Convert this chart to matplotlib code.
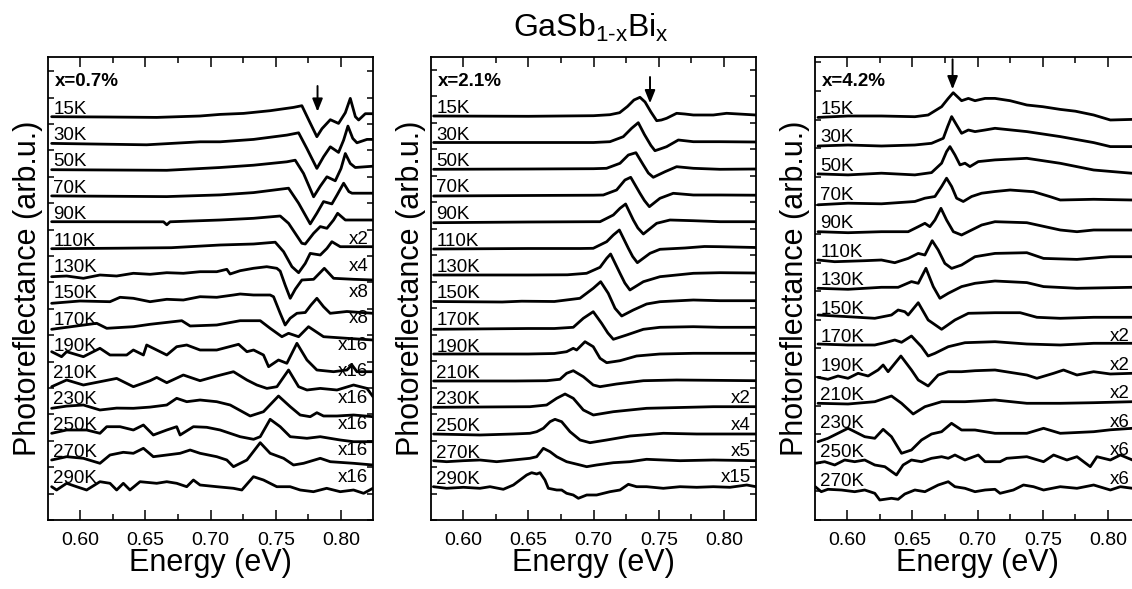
import matplotlib
matplotlib.use('Agg')
import numpy as np
import matplotlib.pyplot as plt
from matplotlib.ticker import MultipleLocator, FormatStrFormatter
from matplotlib.transforms import blended_transform_factory

plt.rcParams['font.family'] = ['Liberation Sans', 'DejaVu Sans']
plt.rcParams['mathtext.fontset'] = 'custom'
plt.rcParams['mathtext.rm'] = 'Liberation Sans'
plt.rcParams['mathtext.it'] = 'Liberation Sans'
plt.rcParams['mathtext.bf'] = 'Liberation Sans:bold'

# ---------------- data: panel 1 (x = 0.7 %) ----------------
temps1 = ['15K', '30K', '50K', '70K', '90K', '110K', '130K', '150K', '170K', '190K', '210K', '230K', '250K', '270K', '290K']
mult1 = ['', '', '', '', '', 'x2', 'x4', 'x8', 'x8', 'x16', 'x16', 'x16', 'x16', 'x16', 'x16']

e1_15 = [0.5783, 0.6200, 0.6588, 0.6920, 0.7074, 0.7253, 0.7457, 0.7636, 0.7700, 0.7759, 0.7815, 0.7854, 0.7918, 0.7981, 0.8033, 0.8071, 0.8110, 0.8135, 0.8186, 0.8245]
s1_15 = [0.0, -0.3, -0.7, 0.7, 2.3, 3.3, 6.0, 9.3, 11.0, -5.0, -20.0, -12.0, -3.0, -6.7, 4.0, 18.3, 0.0, -3.3, 3.0, 3.0]
e1_30 = [0.5783, 0.6511, 0.6920, 0.7074, 0.7330, 0.7585, 0.7675, 0.7738, 0.7815, 0.7866, 0.7918, 0.7981, 0.8020, 0.8053, 0.8090, 0.8122, 0.8199, 0.8245]
s1_30 = [-0.3, -1.7, 1.3, 1.3, 3.7, 8.0, 10.3, -5.3, -25.3, -13.7, -3.7, -9.3, 3.0, 17.0, 4.7, 0.3, 3.7, 3.7]
e1_50 = [0.5783, 0.6665, 0.7074, 0.7330, 0.7585, 0.7649, 0.7713, 0.7790, 0.7841, 0.7892, 0.7956, 0.8000, 0.8033, 0.8071, 0.8109, 0.8245]
s1_50 = [-0.2, -0.8, 2.0, 4.3, 7.7, 9.3, -4.0, -27.3, -16.7, -7.3, -11.3, 1.0, 16.0, 6.0, 2.0, 3.3]
e1_70 = [0.5783, 0.6665, 0.7074, 0.7330, 0.7598, 0.7675, 0.7764, 0.7815, 0.7866, 0.7930, 0.7970, 0.8020, 0.8060, 0.8084, 0.8245]
s1_70 = [0.0, -0.7, 1.0, 3.3, 7.7, -7.3, -28.0, -17.3, -5.7, -8.0, 1.0, 12.7, 4.3, 2.7, 2.7]
e1_90 = [0.5783, 0.6640, 0.6665, 0.6690, 0.7074, 0.7330, 0.7534, 0.7598, 0.7700, 0.7726, 0.7790, 0.7841, 0.7892, 0.7943, 0.7974, 0.8033, 0.8245]
s1_90 = [0.6, 0.5, -2.5, 0.5, 2.3, 4.0, 6.3, -1.0, -21.0, -21.7, -11.0, -4.3, -6.0, 2.3, 9.0, 2.3, 2.3]
e1_110 = [0.5783, 0.6300, 0.6700, 0.7074, 0.7330, 0.7496, 0.7560, 0.7624, 0.7675, 0.7726, 0.7764, 0.7841, 0.7892, 0.7930, 0.7994, 0.8245]
s1_110 = [0.0, 0.5, 1.0, 3.7, 4.7, 6.5, -3.0, -18.0, -24.0, -14.7, -4.7, -6.3, 0.3, 7.0, 2.0, 2.0]
e1_130 = [0.5783, 0.5898, 0.6026, 0.6153, 0.6281, 0.6409, 0.6537, 0.6665, 0.6792, 0.6920, 0.7048, 0.7125, 0.7150, 0.7227, 0.7329, 0.7431, 0.7508, 0.7534, 0.7572, 0.7611, 0.7650, 0.7700, 0.7790, 0.7872, 0.7943, 0.8096, 0.8245]
s1_130 = [-1.6, -0.9, -3.2, 0.1, -0.9, 1.8, 0.8, 2.4, 1.8, 3.4, 3.4, 5.8, 1.1, 4.4, 6.8, 8.4, 6.8, 4.0, -10.0, -23.2, -14.0, -4.9, -4.2, 6.8, -3.2, -4.2, -4.9]
e1_150 = [0.5783, 0.6000, 0.6230, 0.6307, 0.6409, 0.6537, 0.6665, 0.6792, 0.6920, 0.7048, 0.7176, 0.7227, 0.7329, 0.7457, 0.7483, 0.7534, 0.7572, 0.7610, 0.7662, 0.7726, 0.7770, 0.7815, 0.7866, 0.7917, 0.8045, 0.8245]
s1_150 = [-1.8, 0.5, -0.2, 4.2, 3.2, -0.2, 2.2, 1.5, 4.8, 4.2, 6.5, 7.5, 6.5, 6.5, 4.8, -11.8, -23.5, -16.8, -11.8, -11.0, -3.5, 3.2, -5.2, -11.8, -10.0, -11.8]
e1_170 = [0.5783, 0.6128, 0.6205, 0.6409, 0.6537, 0.6780, 0.6844, 0.7048, 0.7227, 0.7381, 0.7457, 0.7547, 0.7598, 0.7675, 0.7751, 0.7866, 0.8045, 0.8245]
s1_170 = [-1.4, 4.6, -0.4, 1.2, 3.6, 7.2, 1.9, 2.9, 7.2, 7.2, -0.4, -8.8, -5.4, -8.8, 1.2, -8.8, -10.4, -12.1]
e1_190 = [0.5783, 0.5859, 0.5898, 0.6026, 0.6153, 0.6230, 0.6358, 0.6409, 0.6486, 0.6511, 0.6588, 0.6665, 0.6741, 0.6818, 0.6920, 0.7048, 0.7215, 0.7279, 0.7330, 0.7406, 0.7445, 0.7521, 0.7585, 0.7662, 0.7739, 0.7815, 0.7943, 0.8045, 0.8084, 0.8122, 0.8245]
s1_190 = [2.6, -2.4, 2.6, -2.4, 6.0, -0.7, -0.7, 4.3, -0.7, 9.3, 4.3, -0.7, 7.6, 9.3, 4.3, 4.3, 10.0, 2.6, 4.3, -0.7, -12.4, -5.7, -9.0, 11.0, -5.7, -15.7, -17.4, -15.7, -10.7, -17.4, -17.4]
e1_210 = [0.5783, 0.5898, 0.6026, 0.6281, 0.6409, 0.6537, 0.6588, 0.6665, 0.6792, 0.6920, 0.7048, 0.7176, 0.7279, 0.7355, 0.7432, 0.7509, 0.7598, 0.7675, 0.7739, 0.7841, 0.7969, 0.8096, 0.8199, 0.8245]
s1_210 = [-6.0, 0.7, -4.3, 2.3, -6.0, 0.0, 3.3, -2.0, 5.7, 0.0, 4.7, 9.0, 0.7, -4.3, -7.7, -6.0, 10.7, -6.0, -9.3, -7.7, -9.3, -4.3, -7.7, -16.0]
e1_230 = [0.5783, 0.5898, 0.6026, 0.6153, 0.6281, 0.6409, 0.6537, 0.6665, 0.6741, 0.6818, 0.6920, 0.7048, 0.7151, 0.7304, 0.7406, 0.7521, 0.7611, 0.7687, 0.7764, 0.7815, 0.7866, 0.7969, 0.8096, 0.8245]
s1_230 = [-1.2, 1.0, 2.1, -2.9, -1.0, -1.2, 0.0, 2.1, 8.8, 5.4, 7.1, 5.4, 2.1, -8.9, -4.6, 11.1, 0.4, -7.9, -9.6, -5.6, -8.9, -8.9, -7.9, -9.6]
e1_250 = [0.5783, 0.5898, 0.6051, 0.6153, 0.6205, 0.6307, 0.6409, 0.6486, 0.6562, 0.6665, 0.6741, 0.6767, 0.6869, 0.6971, 0.7074, 0.7227, 0.7330, 0.7381, 0.7457, 0.7534, 0.7611, 0.7739, 0.7841, 0.7994, 0.8096, 0.8245]
s1_250 = [0.2, 3.5, 3.5, 0.2, 6.8, 6.8, 3.5, 8.5, -1.5, 3.5, 6.8, -1.5, 6.8, 6.2, 3.5, -3.2, -5.8, -3.2, 14.2, 6.8, -3.2, -4.8, -3.2, -6.5, -8.2, -8.2]
e1_270 = [0.5783, 0.5898, 0.6026, 0.6153, 0.6230, 0.6332, 0.6409, 0.6486, 0.6562, 0.6665, 0.6767, 0.6844, 0.6920, 0.7048, 0.7125, 0.7176, 0.7279, 0.7381, 0.7457, 0.7560, 0.7636, 0.7713, 0.7841, 0.7918, 0.8096, 0.8245]
s1_270 = [-0.1, 3.2, 1.6, -3.4, 4.9, 7.6, 6.6, 11.6, 3.2, 4.9, 6.6, 9.9, 6.6, 3.2, -0.1, -6.8, -0.1, 17.2, 6.6, 1.6, -5.1, -3.4, 1.6, -1.8, -3.4, -5.1]
e1_290 = [0.5783, 0.5821, 0.5898, 0.5974, 0.6051, 0.6153, 0.6230, 0.6281, 0.6332, 0.6383, 0.6460, 0.6588, 0.6665, 0.6741, 0.6818, 0.6869, 0.6920, 0.7048, 0.7176, 0.7240, 0.7329, 0.7406, 0.7508, 0.7610, 0.7687, 0.7789, 0.7890, 0.7994, 0.8096, 0.8173, 0.8244]
s1_290 = [-0.4, -3.7, 3.0, -0.4, -3.7, 4.6, 3.0, -3.7, 3.0, -3.7, 4.6, 3.0, 4.6, 3.0, -0.4, 6.3, 1.3, -0.4, -2.0, -3.7, 9.6, 6.3, -0.4, -0.4, -3.7, -5.4, -2.0, -5.4, -3.7, -7.0, -2.0]

# ---------------- data: panel 2 (x = 2.1 %) ----------------
temps2 = ['15K', '30K', '50K', '70K', '90K', '110K', '130K', '150K', '170K', '190K', '210K', '230K', '250K', '270K', '290K']
mult2 = ['', '', '', '', '', '', '', '', '', '', '', 'x2', 'x4', 'x5', 'x15']

e2_15 = [0.5775, 0.6500, 0.7000, 0.7126, 0.7200, 0.7260, 0.7310, 0.7356, 0.7395, 0.7440, 0.7484, 0.7520, 0.7560, 0.7637, 0.7700, 0.7765, 0.7918, 0.8020, 0.8245]
s2_15 = [0.0, -0.3, 0.3, 1.3, 3.3, 9.5, 16.0, 18.7, 14.0, 4.0, -4.7, -4.0, -2.3, 2.7, 2.0, 1.0, 1.0, 2.7, 1.0]
e2_30 = [0.5775, 0.6500, 0.7000, 0.7126, 0.7228, 0.7292, 0.7343, 0.7390, 0.7440, 0.7471, 0.7510, 0.7560, 0.7650, 0.7765, 0.7969, 0.8245]
s2_30 = [0.0, 0.0, 0.0, 0.8, 5.8, 14.2, 19.8, 8.0, -3.0, -8.2, -6.5, -4.2, 2.5, 0.8, 0.8, 0.5]
e2_50 = [0.5775, 0.6500, 0.7000, 0.7100, 0.7203, 0.7267, 0.7325, 0.7382, 0.7420, 0.7458, 0.7548, 0.7637, 0.7765, 0.7969, 0.8245]
s2_50 = [-0.3, 0.0, 0.3, 0.7, 5.7, 14.0, 16.3, 4.0, -4.0, -8.3, -2.7, 2.3, 0.7, -0.3, 0.0]
e2_70 = [0.5775, 0.6500, 0.7000, 0.7075, 0.7177, 0.7241, 0.7285, 0.7356, 0.7390, 0.7428, 0.7509, 0.7611, 0.7765, 0.7969, 0.8245]
s2_70 = [-0.5, 0.0, 0.3, 0.5, 5.5, 15.5, 18.2, 2.2, -5.0, -11.2, -2.8, 2.2, 0.5, 0.5, 0.3]
e2_90 = [0.5775, 0.6500, 0.7000, 0.7050, 0.7152, 0.7203, 0.7246, 0.7305, 0.7340, 0.7382, 0.7484, 0.7586, 0.7765, 0.7969, 0.8245]
s2_90 = [-0.7, 0.0, 0.3, 0.3, 7.0, 13.7, 18.0, 2.0, -6.0, -12.0, -1.3, 2.0, 1.3, 0.3, 0.3]
e2_110 = [0.5775, 0.6500, 0.6900, 0.6998, 0.7101, 0.7152, 0.7198, 0.7267, 0.7300, 0.7336, 0.7433, 0.7509, 0.7700, 0.7850, 0.7969, 0.8245]
s2_110 = [-0.5, 0.0, 0.0, 0.2, 6.8, 13.5, 18.5, 0.2, -8.0, -14.2, -4.8, -0.8, 0.5, 2.0, 1.8, 1.0]
e2_130 = [0.5775, 0.6500, 0.6800, 0.6947, 0.7050, 0.7101, 0.7131, 0.7203, 0.7240, 0.7279, 0.7382, 0.7509, 0.7765, 0.7969, 0.8245]
s2_130 = [0.0, 0.0, 0.2, 1.7, 7.7, 16.7, 21.0, 1.7, -8.0, -15.0, -6.7, -1.7, 1.7, 2.3, 2.0]
e2_150 = [0.5775, 0.6300, 0.6450, 0.6700, 0.6896, 0.6998, 0.7055, 0.7113, 0.7165, 0.7216, 0.7305, 0.7407, 0.7509, 0.7765, 0.7969, 0.8245]
s2_150 = [0.0, -0.5, 0.3, 0.0, 3.2, 13.2, 19.8, 8.2, -6.8, -14.5, -8.5, -2.5, -0.2, 1.5, 0.8, 0.8]
e2_170 = [0.5775, 0.6500, 0.6700, 0.6845, 0.6922, 0.6998, 0.7062, 0.7110, 0.7152, 0.7254, 0.7382, 0.7509, 0.7765, 0.7969, 0.8245]
s2_170 = [-1.3, -0.5, -0.5, 0.7, 9.7, 16.3, 4.7, -5.0, -11.3, -7.0, -1.3, 0.7, 1.3, 0.7, 0.7]
e2_190 = [0.5775, 0.6500, 0.6700, 0.6794, 0.6845, 0.6871, 0.6935, 0.6998, 0.7050, 0.7101, 0.7203, 0.7330, 0.7509, 0.7765, 0.8245]
s2_190 = [0.5, 0.5, 1.0, 2.8, 6.2, 4.5, 12.8, 7.8, -3.8, -8.2, -6.2, -1.5, 0.5, 1.2, 1.2]
e2_210 = [0.5775, 0.6400, 0.6641, 0.6743, 0.6794, 0.6845, 0.6922, 0.6998, 0.7050, 0.7177, 0.7382, 0.7637, 0.8245]
s2_210 = [0.0, 0.0, 0.3, 1.7, 7.7, 10.3, 4.3, -4.0, -5.7, -3.0, 0.3, 1.0, 0.3]
e2_230 = [0.5775, 0.6513, 0.6641, 0.6718, 0.6782, 0.6845, 0.6922, 0.6999, 0.7152, 0.7407, 0.7918, 0.8245]
s2_230 = [0.2, 0.8, 2.5, 9.2, 13.5, 9.2, -2.5, -7.5, -4.2, -0.8, 0.8, 0.8]
e2_250 = [0.5775, 0.6130, 0.6386, 0.6513, 0.6565, 0.6616, 0.6667, 0.6705, 0.6756, 0.6820, 0.6897, 0.6973, 0.7101, 0.7280, 0.7535, 0.7791, 0.8245]
s2_250 = [0.0, -1.0, 0.0, 0.7, 2.3, 5.7, 12.3, 14.7, 12.3, 2.3, -6.0, -8.7, -6.0, -2.0, 0.7, 0.0, 0.0]
e2_270 = [0.5775, 0.5875, 0.6003, 0.6130, 0.6258, 0.6386, 0.6513, 0.6565, 0.6616, 0.6667, 0.6718, 0.6794, 0.6897, 0.6948, 0.7024, 0.7152, 0.7280, 0.7407, 0.7535, 0.7663, 0.7918, 0.8245]
s2_270 = [-0.2, -1.2, -0.2, 0.5, -1.2, 0.5, 2.2, 3.8, 12.2, 8.8, 3.8, -1.2, -4.5, -6.2, -4.5, -2.2, -1.2, 1.2, 0.5, -0.2, 0.5, -0.2]
e2_290 = [0.5773, 0.5875, 0.6003, 0.6130, 0.6207, 0.6309, 0.6386, 0.6437, 0.6488, 0.6526, 0.6565, 0.6590, 0.6628, 0.6654, 0.6718, 0.6756, 0.6794, 0.6845, 0.6884, 0.6948, 0.7024, 0.7126, 0.7203, 0.7267, 0.7330, 0.7407, 0.7535, 0.7663, 0.7791, 0.7918, 0.8046, 0.8174, 0.8245]
s2_290 = [0.3, -1.3, -0.3, -1.3, 0.3, -2.3, 2.0, 7.0, 12.0, 14.3, 13.0, 14.3, 7.0, -1.3, -3.0, -3.0, -6.3, -8.0, -11.3, -8.0, -8.0, -4.7, -3.0, 2.7, 0.3, 0.3, -1.3, 0.3, -0.3, 0.3, -0.3, 2.0, 0.3]

# ---------------- data: panel 3 (x = 4.2 %) ----------------
temps3 = ['15K', '30K', '50K', '70K', '90K', '110K', '130K', '150K', '170K', '190K', '210K', '230K', '250K', '270K']
mult3 = ['', '', '', '', '', '', '', '', 'x2', 'x2', 'x2', 'x6', 'x6', 'x6']

e3_15 = [0.5778, 0.6008, 0.6264, 0.6520, 0.6622, 0.6725, 0.6776, 0.6814, 0.6878, 0.6930, 0.6981, 0.7058, 0.7134, 0.7250, 0.7378, 0.7500, 0.7634, 0.7750, 0.7890, 0.8018, 0.8187]
s3_15 = [-0.7, 0.7, 0.7, 0.0, 1.7, 10.0, 18.3, 24.0, 16.0, 18.3, 16.0, 18.3, 18.3, 16.0, 11.7, 10.0, 7.3, 5.5, 1.7, -3.3, -2.7]
e3_30 = [0.5778, 0.6008, 0.6264, 0.6520, 0.6648, 0.6738, 0.6771, 0.6802, 0.6840, 0.6878, 0.6930, 0.6981, 0.7058, 0.7134, 0.7378, 0.7634, 0.7890, 0.8018, 0.8187]
s3_30 = [-0.7, 0.3, -0.7, 0.3, 2.0, 7.0, 18.7, 28.7, 20.3, 12.0, 15.3, 13.7, 15.3, 17.0, 13.7, 8.7, 2.7, -1.3, -1.3]
e3_50 = [0.5778, 0.6008, 0.6264, 0.6520, 0.6648, 0.6725, 0.6763, 0.6789, 0.6827, 0.6866, 0.6904, 0.6942, 0.7006, 0.7134, 0.7378, 0.7634, 0.7890, 0.8187]
s3_50 = [0.0, -1.0, 0.7, -1.0, 1.3, 10.7, 22.3, 27.3, 19.0, 9.0, 10.7, 7.3, 12.3, 14.0, 15.6, 10.6, 3.9, 0.6]
e3_70 = [0.5778, 0.6008, 0.6264, 0.6520, 0.6597, 0.6674, 0.6725, 0.6763, 0.6802, 0.6840, 0.6891, 0.6955, 0.7032, 0.7134, 0.7250, 0.7429, 0.7557, 0.7634, 0.7890, 0.8187]
s3_70 = [-2.3, -0.7, -1.3, 1.0, 4.3, 6.0, 16.0, 24.3, 16.0, 4.3, 1.0, 6.0, 9.3, 11.0, 12.5, 10.8, 5.8, 2.5, 3.2, 2.5]
e3_90 = [0.5778, 0.6008, 0.6264, 0.6469, 0.6546, 0.6597, 0.6635, 0.6674, 0.6720, 0.6763, 0.6815, 0.6878, 0.6955, 0.7032, 0.7134, 0.7378, 0.7634, 0.7762, 0.7890, 0.8187]
s3_90 = [-0.6, -1.6, -0.6, -0.6, 4.4, 7.8, 4.4, 11.1, 22.8, 11.1, -0.6, -3.9, 1.1, 6.1, 9.4, 8.4, 1.1, -0.6, 1.1, 1.1]
e3_110 = [0.5778, 0.5906, 0.6136, 0.6264, 0.6366, 0.6469, 0.6546, 0.6597, 0.6653, 0.6699, 0.6750, 0.6802, 0.6878, 0.6981, 0.7134, 0.7378, 0.7506, 0.7762, 0.8018, 0.8187]
s3_110 = [-0.3, -2.0, -1.0, -0.3, -3.0, 1.3, 6.3, 4.7, 19.0, 9.7, -3.7, -8.7, -5.3, 3.0, 6.3, 7.0, 1.3, 0.3, 3.0, 3.0]
e3_130 = [0.5778, 0.6008, 0.6264, 0.6392, 0.6494, 0.6546, 0.6605, 0.6661, 0.6712, 0.6776, 0.6878, 0.6981, 0.7134, 0.7378, 0.7506, 0.7762, 0.8187]
s3_130 = [0.0, -1.0, 1.0, 1.0, 6.7, 5.0, 20.0, 1.7, -10.0, -5.0, 1.7, 5.0, 7.3, 5.7, 1.7, 0.0, 1.0]
e3_150 = [0.5778, 0.6008, 0.6213, 0.6341, 0.6392, 0.6443, 0.6469, 0.6546, 0.6622, 0.6725, 0.6827, 0.6930, 0.7134, 0.7327, 0.7455, 0.7634, 0.7890, 0.8187]
s3_150 = [1.9, 0.2, -1.4, 1.9, 6.9, 5.2, 1.9, 14.2, -3.1, -12.4, -3.1, 3.6, 4.2, 4.2, -0.4, -1.4, -0.4, -0.4]
e3_170 = [0.5778, 0.6008, 0.6213, 0.6290, 0.6366, 0.6418, 0.6494, 0.6571, 0.6622, 0.6674, 0.6776, 0.6904, 0.7134, 0.7378, 0.7634, 0.7890, 0.8187]
s3_170 = [1.5, 0.5, 0.5, 2.8, 5.5, 3.2, 9.5, -1.2, -10.5, -7.8, -1.2, 2.8, 3.8, 1.5, 0.5, 2.2, 2.2]
e3_190 = [0.5778, 0.5854, 0.5931, 0.6008, 0.6085, 0.6162, 0.6238, 0.6277, 0.6315, 0.6413, 0.6494, 0.6546, 0.6622, 0.6699, 0.6776, 0.6878, 0.6981, 0.7134, 0.7378, 0.7455, 0.7583, 0.7659, 0.7762, 0.7890, 0.8018, 0.8187]
s3_190 = [-3.2, -5.2, -1.9, -4.2, 0.8, -1.9, 4.1, 9.1, 2.4, 18.1, 4.1, -5.9, -11.9, -0.9, 2.4, 2.4, 3.4, 4.1, -0.9, -4.2, 0.8, 4.1, -0.9, 2.4, 0.1, 0.8]
e3_210 = [0.5778, 0.6008, 0.6213, 0.6341, 0.6418, 0.6507, 0.6597, 0.6725, 0.6904, 0.7134, 0.7378, 0.7634, 0.7890, 0.8187]
s3_210 = [-0.6, -1.3, 1.0, 6.7, -0.6, -11.3, -4.0, 1.0, 1.0, 2.7, -0.6, -0.6, 0.0, 1.0]
e3_230 = [0.5778, 0.5854, 0.5931, 0.6008, 0.6136, 0.6213, 0.6277, 0.6341, 0.6418, 0.6494, 0.6571, 0.6648, 0.6725, 0.6801, 0.6878, 0.6981, 0.7058, 0.7134, 0.7378, 0.7506, 0.7634, 0.7890, 0.8018, 0.8187]
s3_230 = [-10.4, -7.0, -2.0, 3.0, -5.4, -7.0, 2.0, -5.4, -22.0, -18.7, -8.7, -2.7, -0.4, 8.0, 1.3, 1.3, -0.4, -2.0, -2.0, 3.0, -2.0, -0.4, 1.5, 3.0]
e3_250 = [0.5757, 0.5829, 0.5906, 0.5982, 0.6059, 0.6136, 0.6213, 0.6290, 0.6379, 0.6430, 0.6494, 0.6571, 0.6648, 0.6725, 0.6776, 0.6827, 0.6904, 0.7006, 0.7058, 0.7134, 0.7173, 0.7224, 0.7378, 0.7506, 0.7583, 0.7685, 0.7762, 0.7864, 0.7915, 0.8018, 0.8095, 0.8187]
s3_250 = [-3.4, -1.8, -5.1, -0.1, -1.8, -0.1, -5.1, -6.8, -15.1, -5.1, -0.1, -1.8, 1.6, 3.2, 1.6, 4.9, -0.1, 4.9, -1.8, -1.8, -1.8, 1.6, 3.2, -1.8, 4.9, -0.1, 3.2, -6.8, 3.2, -0.1, 4.9, -0.1]
e3_270 = [0.5757, 0.5803, 0.5854, 0.5957, 0.6059, 0.6136, 0.6213, 0.6251, 0.6341, 0.6392, 0.6443, 0.6520, 0.6597, 0.6699, 0.6776, 0.6827, 0.6904, 0.6981, 0.7058, 0.7134, 0.7173, 0.7275, 0.7352, 0.7429, 0.7506, 0.7634, 0.7762, 0.7890, 0.8018, 0.8095, 0.8187]
s3_270 = [1.8, -3.2, -0.8, -1.5, -3.2, -1.5, -4.8, -11.5, -9.8, -10.8, -5.5, -1.5, -3.2, 3.5, 6.8, 1.8, 0.2, -3.2, -1.5, -0.8, -4.8, -1.5, 3.5, 1.8, -1.5, 1.8, 0.2, 3.5, -1.5, 1.8, 0.2]

compositions = ['x=0.7%', 'x=2.1%', 'x=4.2%']
arrow_energy = [0.782, 0.7433, 0.6809]

# ---------------- assemble ----------------
E1 = [e1_15, e1_30, e1_50, e1_70, e1_90, e1_110, e1_130, e1_150, e1_170, e1_190, e1_210, e1_230, e1_250, e1_270, e1_290]
S1 = [s1_15, s1_30, s1_50, s1_70, s1_90, s1_110, s1_130, s1_150, s1_170, s1_190, s1_210, s1_230, s1_250, s1_270, s1_290]
E2 = [e2_15, e2_30, e2_50, e2_70, e2_90, e2_110, e2_130, e2_150, e2_170, e2_190, e2_210, e2_230, e2_250, e2_270, e2_290]
S2 = [s2_15, s2_30, s2_50, s2_70, s2_90, s2_110, s2_130, s2_150, s2_170, s2_190, s2_210, s2_230, s2_250, s2_270, s2_290]
E3 = [e3_15, e3_30, e3_50, e3_70, e3_90, e3_110, e3_130, e3_150, e3_170, e3_190, e3_210, e3_230, e3_250, e3_270]
S3 = [s3_15, s3_30, s3_50, s3_70, s3_90, s3_110, s3_130, s3_150, s3_170, s3_190, s3_210, s3_230, s3_250, s3_270]

panels = [
    dict(E=E1, S=S1, temps=temps1, mult=mult1, left=48, base=403.3, step=26.4, arrow=(30.7, 5.0), mx=0.986),
    dict(E=E2, S=S2, temps=temps2, mult=mult2, left=431, base=404.0, step=26.5, arrow=(39.0, 12.7), mx=0.984),
    dict(E=E3, S=S3, temps=temps3, mult=mult3, left=815, base=403.3, step=28.6, arrow=(57.4, 27.4), mx=0.968),
]

W, H = 1132, 589
fig = plt.figure(figsize=(W / 100, H / 100), dpi=100)

ax_w, ax_h = 325, 463
ax_bottom_px = 69

for k, p in enumerate(panels):
    ax = fig.add_axes([p['left'] / W, ax_bottom_px / H, ax_w / W, ax_h / H])
    ax.set_xlim(0.5755, 0.8245)
    ax.set_ylim(0, 463)
    tr = blended_transform_factory(ax.transAxes, ax.transData)
    for i, (e, s) in enumerate(zip(p['E'], p['S'])):
        off = p['base'] - i * p['step']
        ax.plot(e, off + np.asarray(s), color='black', lw=2.0,
                solid_joinstyle='round', solid_capstyle='round')
        ax.text(0.016, off + 3.0, p['temps'][i], transform=tr, fontsize=13.5,
                ha='left', va='baseline')
        if p['mult'][i]:
            ax.text(p['mx'], off + 4.5, p['mult'][i], transform=tr, fontsize=13.5,
                    ha='right', va='baseline')
    ax.text(0.022, 0.938, compositions[k], transform=ax.transAxes, fontsize=13.5,
            fontweight='bold', ha='left', va='baseline')
    ea = arrow_energy[k]
    ax.annotate('', xy=(ea, p['base'] + p['arrow'][1]), xytext=(ea, p['base'] + p['arrow'][0]),
                arrowprops=dict(arrowstyle='-|>,head_length=0.55,head_width=0.22',
                                color='black', lw=1.4, mutation_scale=14,
                                shrinkA=0, shrinkB=0))
    ax.xaxis.set_major_locator(MultipleLocator(0.05))
    ax.xaxis.set_minor_locator(MultipleLocator(0.025))
    ax.yaxis.set_major_locator(MultipleLocator(p['step']))
    ax.tick_params(axis='x', which='major', direction='in', top=True, bottom=True,
                   length=7, width=1.1, labelsize=14, pad=8.5)
    ax.tick_params(axis='x', which='minor', direction='in', top=True, bottom=True,
                   length=4, width=1.1)
    ax.tick_params(axis='y', which='major', direction='in', left=True, right=True,
                   length=4, width=1.1, labelleft=False)
    ax.xaxis.set_major_formatter(FormatStrFormatter('%.2f'))
    for sp in ax.spines.values():
        sp.set_linewidth(1.3)
    ax.set_xlabel('Energy (eV)', fontsize=22)
    ax.xaxis.set_label_coords(0.5, -0.060)
    ax.set_ylabel('Photoreflectance (arb.u.)', fontsize=22)
    ax.yaxis.set_label_coords(-0.016, 0.5)

fig.text(591 / W, (H - 36.7) / H, r'GaSb$_\mathregular{1\text{-}x}$Bi$_\mathregular{x}$',
         fontsize=23, ha='center', va='baseline')

fig.savefig('out.png', dpi=100)
